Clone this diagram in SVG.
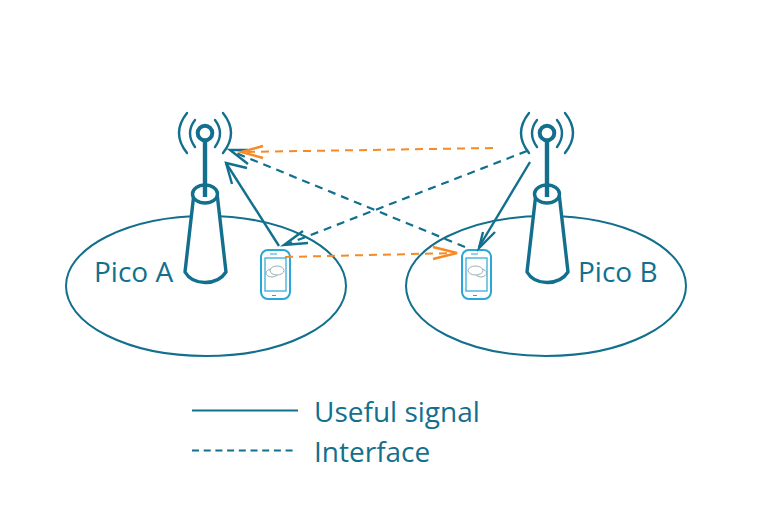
<svg xmlns="http://www.w3.org/2000/svg" xmlns:xlink="http://www.w3.org/1999/xlink" width="772" height="530" viewBox="0 0 772 530">
<style>
.cell{fill:none;stroke:#12708e;stroke-width:2}
.tw{fill:#fff;stroke:#12708e;stroke-width:3.4;stroke-linejoin:round}
.ring{fill:#fff;stroke:#12708e;stroke-width:4}
.mast{fill:none;stroke:#12708e;stroke-width:4.4}
.wave{fill:none;stroke:#12708e;stroke-width:2.400;stroke-linecap:round}
.use{fill:none;stroke:#12708e;stroke-width:2.400}
.int{fill:none;stroke:#12708e;stroke-width:2.200;stroke-dasharray:8 6}
.leg{fill:none;stroke:#12708e;stroke-width:2}
.legd{fill:none;stroke:#12708e;stroke-width:2;stroke-dasharray:7 4.700}
.org{fill:none;stroke:#f58a27;stroke-width:2;stroke-dasharray:8 6}
.head{fill:none;stroke:#12708e;stroke-width:2.400}
.ohead{fill:none;stroke:#f58a27;stroke-width:2.400}
.ph{fill:#fff;stroke:#29a7d6;stroke-width:2}
.ph2{fill:none;stroke:#29a7d6;stroke-width:1.200}
.ph3{fill:#fff;stroke:#7f9aa5;stroke-width:.8}
text{font-family:"Open Sans","Noto Sans",sans-serif;fill:#12708e}
</style>
<defs>
<g id="tower">
<path class="wave" d="M-10 -13Q-20 0 -10 14M-18 -20Q-34 0 -18 20M10 -13Q20 0 10 14M18 -20Q34 0 18 20"/>
<path class="tw" d="M-11 60L-20 139C-12 153 12 153 21 139L12 60Z"/>
<ellipse class="tw" cx="0" cy="61" rx="12.500" ry="9"/>
<circle class="ring" cx="0" cy="0" r="7.300"/>
<path class="mast" d="M0 8V64"/>
</g>
<g id="phone">
<rect class="ph" x="0" y="0" width="29" height="49" rx="7"/>
<rect class="ph2" x="4" y="8" width="21" height="33"/>
<path class="ph2" d="M9 4H16M11 45.500H15"/>
</g>
</defs>
<g id="pico-a-cell"><ellipse class="cell" cx="206" cy="286" rx="140" ry="70"/></g>
<g id="pico-b-cell"><ellipse class="cell" cx="546" cy="286" rx="140" ry="70"/></g>
<g id="tower-a"><use xlink:href="#tower" href="#tower" x="205" y="133"/></g>
<g id="tower-b"><use xlink:href="#tower" href="#tower" x="547" y="133"/></g>
<g id="phone-a"><use xlink:href="#phone" href="#phone" x="261" y="250"/>
<ellipse class="ph3" cx="272" cy="273" rx="6" ry="4"/>
<ellipse class="ph3" cx="277" cy="270.500" rx="7" ry="4.500"/></g>
<g id="phone-b"><use xlink:href="#phone" href="#phone" x="462" y="250"/>
<ellipse class="ph3" cx="481" cy="273" rx="5.500" ry="4"/>
<ellipse class="ph3" cx="475.500" cy="270.500" rx="7.500" ry="4.500"/></g>
<g id="connectors">
<path class="use" d="M279 246L226 163"/>
<path class="head" d="M232 184L226 163L247 168"/>
<path class="use" d="M530 162L479 247"/>
<path class="head" d="M483 232L479 248L495 232"/>
<path class="int" d="M465 247L231 151"/>
<path class="head" d="M248 164L230 150L248 150"/>
<path class="int" d="M527 151L285 245"/>
<path class="head" d="M303 231L284 245L308 243"/>
<path class="org" d="M493 148L241 152"/>
<path class="ohead" d="M263 146L241 152L263 158"/>
<path class="org" d="M285 257L456 253"/>
<path class="ohead" d="M433 247L457 253L433 259"/>
<path class="leg" d="M192 410.500H298"/>
<path class="legd" d="M192 450.500H297"/>
</g>
<g id="labels">
<text x="94" y="282" font-size="28">Pico A</text>
<text x="578" y="282" font-size="28">Pico B</text>
<text x="314" y="422" font-size="28">Useful signal</text>
<text x="314" y="462" font-size="28">Interface</text>
</g>
</svg>
